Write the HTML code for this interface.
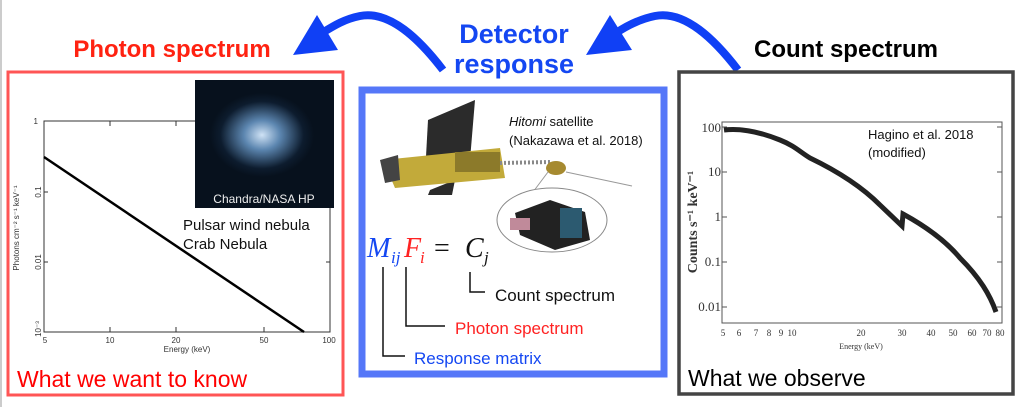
<!DOCTYPE html>
<html><head><meta charset="utf-8"><style>
html,body{margin:0;padding:0;background:#fff;}
svg{display:block;font-family:"Liberation Sans",sans-serif;}
</style></head><body>
<svg width="1022" height="407" viewBox="0 0 1022 407" xmlns="http://www.w3.org/2000/svg">
<rect width="1022" height="407" fill="#fff"/>
<line x1="1" y1="0" x2="1" y2="407" stroke="#999" stroke-width="1"/>
<!-- titles -->
<text x="172" y="57" font-size="24" font-weight="bold" fill="#f21" text-anchor="middle">Photon spectrum</text>
<text x="514" y="43" font-size="27" font-weight="bold" fill="#1447f2" text-anchor="middle">Detector</text>
<text x="514" y="73" font-size="27" font-weight="bold" fill="#1447f2" text-anchor="middle">response</text>
<text x="846" y="57" font-size="24" font-weight="bold" fill="#000" text-anchor="middle">Count spectrum</text>
<!-- arrows -->
<path d="M443,70 C420,40 390,10 360,16 C345,19 335,25 322,33" fill="none" stroke="#1040f5" stroke-width="8"/>
<polygon points="293,55 317,15 338,50" fill="#1040f5"/>
<path d="M738,70 C715,40 685,10 655,16 C640,19 628,25 616,33" fill="none" stroke="#1040f5" stroke-width="8"/>
<polygon points="586,55 610,15 632,50" fill="#1040f5"/>

<!-- left box -->
<rect x="8" y="72" width="335" height="323" fill="none" stroke="#f55" stroke-width="3"/>
<rect x="44" y="121" width="286" height="211" fill="none" stroke="#333" stroke-width="1"/>
<g stroke="#333" stroke-width="1">
<line x1="44" y1="192" x2="48" y2="192"/><line x1="44" y1="262" x2="48" y2="262"/>
<line x1="326" y1="192" x2="330" y2="192"/><line x1="326" y1="262" x2="330" y2="262"/>
<line x1="110" y1="332" x2="110" y2="327"/><line x1="176" y1="332" x2="176" y2="327"/><line x1="264" y1="332" x2="264" y2="327"/>
<line x1="110" y1="121" x2="110" y2="126"/><line x1="176" y1="121" x2="176" y2="126"/>
</g>
<line x1="44" y1="157" x2="304" y2="332" stroke="#000" stroke-width="2.5"/>
<g font-size="8" fill="#333">
<text x="38" y="124" text-anchor="end">1</text>
<text x="37" y="196" transform="rotate(-90 37 192)" text-anchor="middle">0.1</text>
<text x="37" y="266" transform="rotate(-90 37 262)" text-anchor="middle">0.01</text>
<text x="37" y="333" transform="rotate(-90 37 329)" text-anchor="middle">10⁻³</text>
<text x="45" y="343" text-anchor="middle">5</text>
<text x="110" y="343" text-anchor="middle">10</text>
<text x="176" y="343" text-anchor="middle">20</text>
<text x="264" y="343" text-anchor="middle">50</text>
<text x="329" y="343" text-anchor="middle">100</text>
<text x="187" y="352" text-anchor="middle">Energy (keV)</text>
<text x="19" y="228" transform="rotate(-90 19 228)" text-anchor="middle">Photons cm⁻² s⁻¹ keV⁻¹</text>
</g>
<defs><radialGradient id="neb" cx="0.5" cy="0.5" r="0.5"><stop offset="0" stop-color="#cfe2f5"/><stop offset="0.35" stop-color="#5c86b0"/><stop offset="0.8" stop-color="#0d1c2e"/><stop offset="1" stop-color="#07111d"/></radialGradient></defs>
<rect x="195" y="80" width="139" height="128" fill="#07111d"/>
<ellipse cx="262" cy="135" rx="52" ry="42" fill="url(#neb)"/>
<text x="264" y="203" font-size="12" fill="#eee" text-anchor="middle">Chandra/NASA HP</text>
<text x="183" y="230" font-size="15" fill="#111">Pulsar wind nebula</text>
<text x="183" y="249" font-size="15" fill="#111">Crab Nebula</text>
<text x="17" y="387" font-size="23" fill="#f00">What we want to know</text>

<!-- center box -->
<rect x="362" y="90" width="302" height="284" fill="none" stroke="#5577f8" stroke-width="7"/>
<polygon points="428,120 475,100 470,160 425,175" fill="#2b2b2b"/>
<polygon points="430,190 455,180 452,195 428,195" fill="#2b2b2b"/>
<polygon points="383,160 500,148 505,178 395,188" fill="#c2aa3a"/>
<polygon points="380,160 398,155 400,180 385,183" fill="#444"/>
<rect x="455" y="152" width="45" height="20" fill="#8c7a2a"/>
<line x1="500" y1="163" x2="550" y2="162" stroke="#888" stroke-width="4" stroke-dasharray="2 2"/>
<ellipse cx="556" cy="168" rx="10" ry="7" fill="#a68a30"/>
<line x1="566" y1="172" x2="632" y2="186" stroke="#999"/>
<line x1="548" y1="172" x2="527" y2="200" stroke="#999"/>
<ellipse cx="552" cy="220" rx="55" ry="32" fill="#fff" stroke="#888" stroke-width="1"/>
<polygon points="515,213 550,200 585,212 590,240 555,250 520,235" fill="#222"/>
<rect x="560" y="208" width="22" height="30" fill="#2c5a70"/>
<rect x="510" y="218" width="20" height="12" fill="#c08a9a"/>
<text x="509" y="126" font-size="13" fill="#111"><tspan font-style="italic">Hitomi</tspan> satellite</text>
<text x="509" y="145" font-size="13" fill="#111">(Nakazawa et al. 2018)</text>
<g font-family="'Liberation Serif',serif" font-style="italic" font-size="28">
<text x="367" y="257" fill="#1447f2">M</text>
<text x="391" y="263" font-size="17" fill="#1447f2">ij</text>
<text x="404" y="257" fill="#f22">F</text>
<text x="420" y="263" font-size="17" fill="#f22">i</text>
<text x="434" y="257" font-style="normal" fill="#111">=</text>
<text x="465" y="257" fill="#111">C</text>
<text x="484" y="263" font-size="17" fill="#111">j</text>
</g>
<g stroke="#111" stroke-width="1.5" fill="none">
<polyline points="383,267 383,356 405,356"/>
<polyline points="406,267 406,326 445,326"/>
<polyline points="470,272 470,292 485,292"/>
</g>
<text x="495" y="301" font-size="17" fill="#111">Count spectrum</text>
<text x="455" y="334" font-size="17" fill="#f22">Photon spectrum</text>
<text x="414" y="364" font-size="17" fill="#1447f2">Response matrix</text>

<!-- right box -->
<rect x="679" y="72" width="334" height="322" fill="none" stroke="#444" stroke-width="3.5"/>
<rect x="722" y="122" width="280" height="201" fill="none" stroke="#555" stroke-width="1"/>
<g stroke="#555" stroke-width="1">
<line x1="722" y1="127" x2="727" y2="127"/><line x1="722" y1="172" x2="727" y2="172"/><line x1="722" y1="217" x2="727" y2="217"/><line x1="722" y1="262" x2="727" y2="262"/><line x1="722" y1="307" x2="727" y2="307"/>
<line x1="997" y1="127" x2="1002" y2="127"/><line x1="997" y1="172" x2="1002" y2="172"/><line x1="997" y1="217" x2="1002" y2="217"/><line x1="997" y1="262" x2="1002" y2="262"/><line x1="997" y1="307" x2="1002" y2="307"/>
</g>
<g font-family="'Liberation Serif',serif" fill="#333">
<g font-size="13" text-anchor="end">
<text x="721" y="132">100</text><text x="721" y="176">10</text><text x="721" y="221">1</text><text x="721" y="266">0.1</text><text x="721" y="311">0.01</text>
</g>
<g font-size="9" text-anchor="middle">
<text x="723" y="336">5</text><text x="739" y="336">6</text><text x="756" y="336">7</text><text x="769" y="336">8</text><text x="781" y="336">9</text><text x="792" y="336">10</text><text x="861" y="336">20</text><text x="902" y="336">30</text><text x="931" y="336">40</text><text x="953" y="336">50</text><text x="972" y="336">60</text><text x="987" y="336">70</text><text x="1000" y="336">80</text>
<text x="861" y="349" font-size="8">Energy (keV)</text>
</g>
<text x="697" y="222" font-size="14" transform="rotate(-90 697 222)" text-anchor="middle" font-weight="bold">Counts s⁻¹ keV⁻¹</text>
</g>
<path d="M724,130 C740,128 760,132 780,140 C795,146 800,152 810,158 C835,170 860,185 880,205 L902,226 L903,214 C925,226 945,240 960,258 C980,278 990,295 996,312" fill="none" stroke="#222" stroke-width="5"/>
<text x="868" y="139" font-size="13" fill="#111">Hagino et al. 2018</text>
<text x="868" y="157" font-size="13" fill="#111">(modified)</text>
<text x="688" y="386" font-size="23" fill="#000">What we observe</text>
</svg>
</body></html>
